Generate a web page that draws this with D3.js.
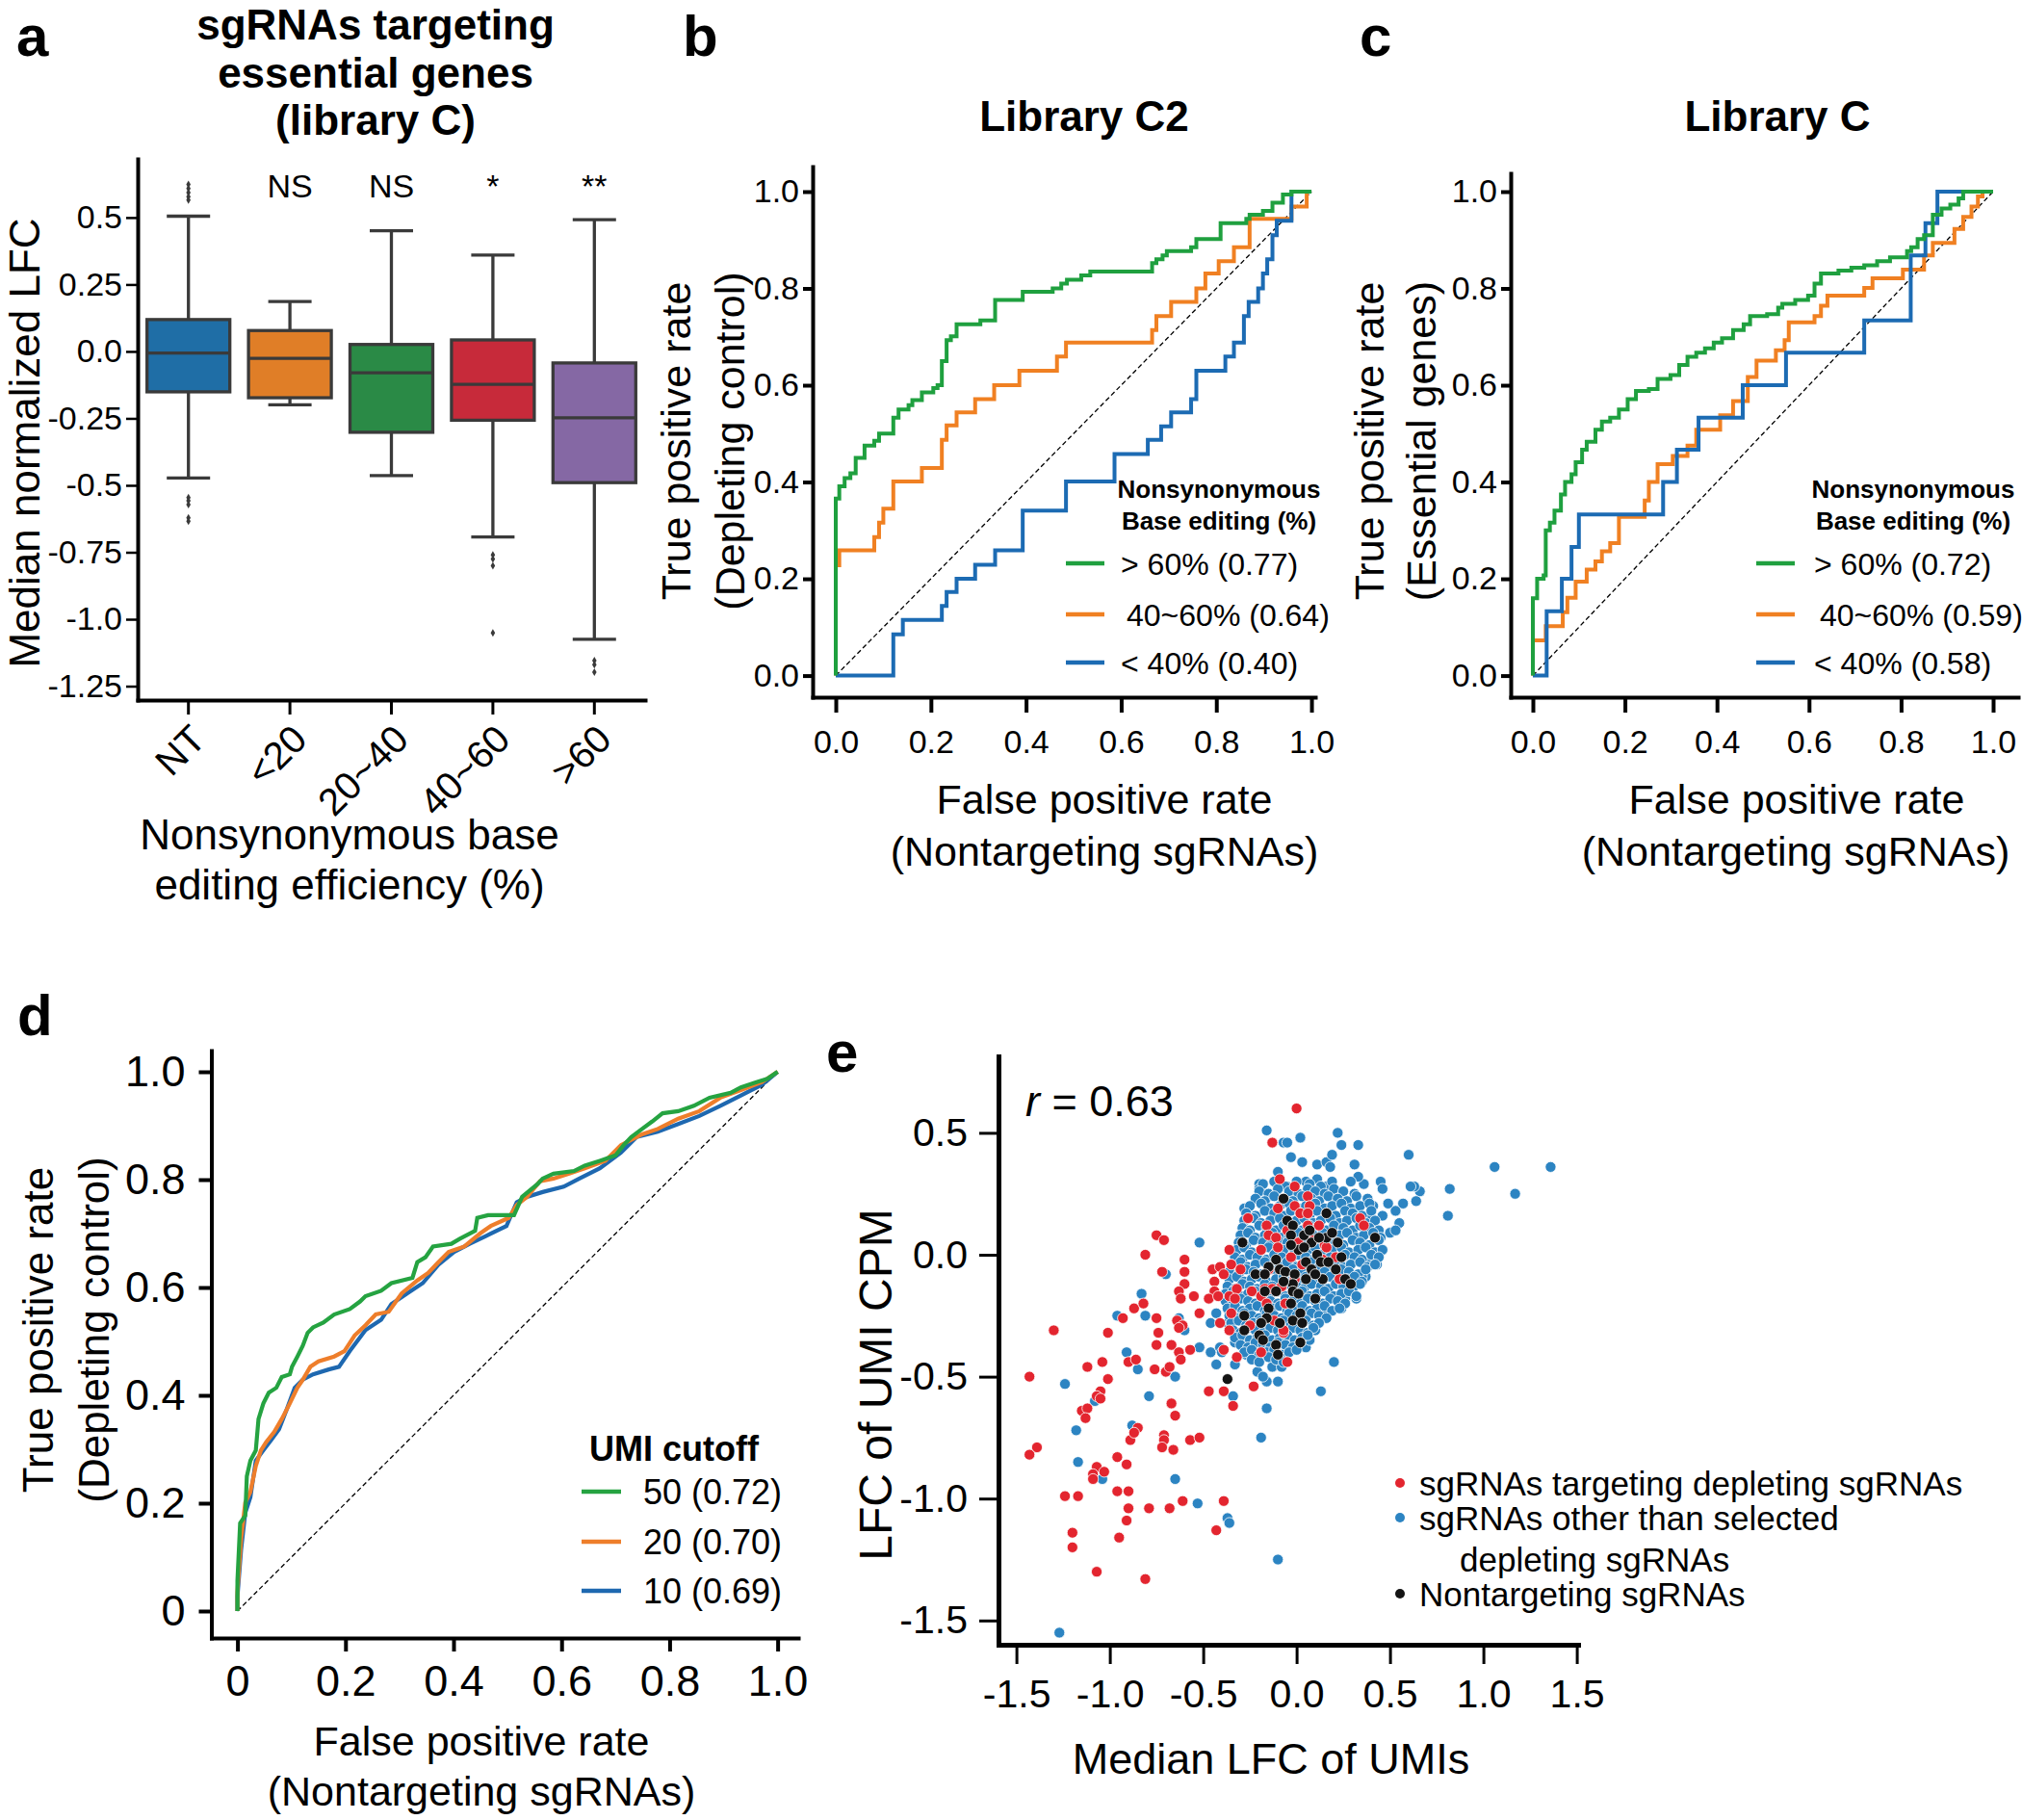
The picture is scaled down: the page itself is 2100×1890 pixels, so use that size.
<!DOCTYPE html>
<html><head><meta charset="utf-8">
<script src="https://cdn.jsdelivr.net/npm/d3@7"></script>
<style>body{margin:0;background:#fff} text{font-family:'Liberation Sans',Arial,Helvetica,sans-serif}</style>
</head><body><script>
// ---------------- DATA ----------------
// Panel a: boxplot (whisker low, Q1, median, Q3, whisker high)
const boxCats = ["NT","<20","20~40","40~60",">60"];
const boxLow  = [-0.473,-0.199,-0.464,-0.693,-1.075];
const boxQ1   = [-0.151,-0.173,-0.302,-0.257,-0.490];
const boxMed  = [-0.006,-0.026,-0.080,-0.123,-0.248];
const boxQ3   = [0.119,0.078,0.026,0.043,-0.043];
const boxHigh = [0.505,0.186,0.451,0.360,0.492];
const boxOutliers = [
  [0.624,0.608,0.593,0.578,0.565,-0.546,-0.558,-0.572,-0.621,-0.634],
  [],[],
  [-0.760,-0.775,-0.800,-1.051],
  [-1.155,-1.170,-1.198]];
const boxSig = ["","NS","NS","*","**"];
const boxColors = ["#1f6ea6","#e07e27","#2a8a46","#c72a3a","#8568a4"];
const aTicks = [0.5,0.25,0,-0.25,-0.5,-0.75,-1,-1.25];
const aTickLabels = ["0.5","0.25","0.0","-0.25","-0.5","-0.75","-1.0","-1.25"];

// Panel b: ROC, library C2 [fpr, tpr]
const rocBGreen = [[0,0],[0,0.366],[0.0074,0.391],[0.0186,0.408],[0.0307,0.418],[0.0419,0.45],[0.0605,0.475],[0.081,0.485],[0.091,0.5],[0.121,0.533],[0.132,0.55],[0.153,0.559],[0.161,0.569],[0.181,0.585],[0.205,0.594],[0.214,0.6],[0.223,0.65],[0.233,0.693],[0.242,0.701],[0.254,0.726],[0.304,0.734],[0.335,0.776],[0.393,0.793],[0.456,0.8],[0.474,0.81],[0.486,0.818],[0.516,0.827],[0.535,0.835],[0.665,0.852],[0.674,0.86],[0.687,0.868],[0.696,0.877],[0.747,0.885],[0.758,0.902],[0.809,0.935],[0.863,0.944],[0.87,0.952],[0.898,0.96],[0.918,0.977],[0.94,0.994],[0.958,1],[1,1]];
const rocBOrange = [[0,0],[0,0.228],[0.0074,0.259],[0.081,0.286],[0.091,0.316],[0.1,0.345],[0.121,0.401],[0.181,0.429],[0.223,0.487],[0.233,0.517],[0.254,0.544],[0.293,0.571],[0.333,0.6],[0.386,0.63],[0.465,0.659],[0.484,0.688],[0.665,0.714],[0.674,0.743],[0.705,0.772],[0.758,0.8],[0.777,0.831],[0.805,0.856],[0.837,0.885],[0.87,0.944],[0.958,0.969],[0.99,1],[1,1]];
const rocBBlue = [[0,0],[0.121,0],[0.121,0.085],[0.141,0.115],[0.223,0.144],[0.233,0.173],[0.254,0.2],[0.293,0.229],[0.335,0.259],[0.393,0.341],[0.484,0.401],[0.586,0.458],[0.656,0.487],[0.684,0.515],[0.705,0.544],[0.747,0.571],[0.758,0.63],[0.819,0.659],[0.837,0.688],[0.858,0.743],[0.868,0.772],[0.888,0.8],[0.898,0.831],[0.907,0.86],[0.918,0.91],[0.927,0.94],[0.958,1],[1,1]];
const legendB = ["> 60% (0.77)","40~60% (0.64)","< 40% (0.40)"];

// Panel c: ROC, library C
const rocCGreen = [[0,0],[0,0.16],[0.0093,0.2],[0.0234,0.207],[0.028,0.3],[0.037,0.316],[0.047,0.341],[0.061,0.374],[0.07,0.4],[0.084,0.416],[0.093,0.441],[0.107,0.467],[0.117,0.483],[0.136,0.508],[0.15,0.525],[0.168,0.533],[0.187,0.55],[0.206,0.571],[0.224,0.588],[0.252,0.592],[0.271,0.613],[0.299,0.621],[0.318,0.642],[0.336,0.659],[0.355,0.667],[0.374,0.676],[0.393,0.688],[0.411,0.697],[0.435,0.714],[0.458,0.726],[0.472,0.743],[0.509,0.747],[0.533,0.76],[0.542,0.768],[0.57,0.776],[0.598,0.785],[0.612,0.81],[0.626,0.831],[0.664,0.837],[0.692,0.843],[0.72,0.848],[0.748,0.856],[0.776,0.864],[0.813,0.877],[0.822,0.885],[0.836,0.902],[0.85,0.91],[0.869,0.952],[0.888,0.965],[0.907,0.973],[0.925,0.986],[0.935,1],[1,1]];
const rocCOrange = [[0,0],[0,0.073],[0.028,0.102],[0.065,0.131],[0.075,0.161],[0.093,0.194],[0.117,0.219],[0.136,0.236],[0.15,0.257],[0.168,0.274],[0.187,0.328],[0.243,0.362],[0.252,0.4],[0.271,0.437],[0.304,0.454],[0.336,0.475],[0.355,0.508],[0.407,0.538],[0.435,0.567],[0.467,0.617],[0.486,0.651],[0.528,0.672],[0.547,0.693],[0.556,0.73],[0.612,0.743],[0.626,0.764],[0.64,0.785],[0.72,0.801],[0.738,0.821],[0.804,0.839],[0.85,0.868],[0.869,0.894],[0.916,0.923],[0.935,0.948],[0.953,0.969],[0.967,0.99],[0.977,1],[1,1]];
const rocCBlue = [[0,0],[0.03,0],[0.03,0.133],[0.063,0.2],[0.084,0.266],[0.1,0.333],[0.283,0.4],[0.313,0.467],[0.36,0.533],[0.456,0.6],[0.55,0.667],[0.72,0.734],[0.821,0.868],[0.853,0.935],[0.879,1],[1,1]];
const legendC = ["> 60% (0.72)","40~60% (0.59)","< 40% (0.58)"];

// Panel d: ROC by UMI cutoff
const rocDGreen = [[0,0],[0,0.056],[0.005,0.163],[0.0145,0.177],[0.0174,0.25],[0.024,0.279],[0.034,0.298],[0.039,0.356],[0.048,0.385],[0.058,0.405],[0.072,0.414],[0.082,0.434],[0.097,0.439],[0.101,0.453],[0.111,0.472],[0.121,0.492],[0.13,0.516],[0.14,0.526],[0.159,0.535],[0.179,0.55],[0.208,0.56],[0.227,0.574],[0.237,0.584],[0.266,0.594],[0.285,0.608],[0.324,0.618],[0.333,0.647],[0.348,0.656],[0.362,0.676],[0.396,0.681],[0.411,0.69],[0.44,0.705],[0.444,0.729],[0.464,0.734],[0.512,0.734],[0.527,0.768],[0.556,0.792],[0.565,0.802],[0.585,0.811],[0.623,0.816],[0.643,0.826],[0.671,0.835],[0.7,0.845],[0.715,0.864],[0.729,0.879],[0.749,0.894],[0.768,0.908],[0.787,0.923],[0.816,0.927],[0.845,0.937],[0.874,0.952],[0.913,0.961],[0.932,0.971],[0.961,0.981],[0.981,0.987],[1,1]];
const rocDOrange = [[0,0],[0,0.037],[0.0068,0.134],[0.0145,0.201],[0.024,0.221],[0.034,0.269],[0.0435,0.298],[0.053,0.313],[0.068,0.332],[0.082,0.356],[0.097,0.385],[0.111,0.414],[0.121,0.429],[0.135,0.453],[0.15,0.463],[0.179,0.472],[0.198,0.482],[0.217,0.511],[0.237,0.53],[0.256,0.55],[0.28,0.555],[0.304,0.589],[0.333,0.613],[0.353,0.627],[0.372,0.647],[0.391,0.666],[0.42,0.676],[0.449,0.7],[0.469,0.714],[0.502,0.729],[0.517,0.753],[0.536,0.768],[0.56,0.797],[0.585,0.802],[0.614,0.811],[0.643,0.821],[0.681,0.835],[0.71,0.864],[0.749,0.884],[0.778,0.894],[0.816,0.913],[0.855,0.927],[0.894,0.952],[0.932,0.966],[0.971,0.981],[1,1]];
const rocDBlue = [[0,0],[0,0.027],[0.0068,0.114],[0.0145,0.182],[0.024,0.211],[0.034,0.279],[0.048,0.298],[0.063,0.318],[0.077,0.337],[0.092,0.376],[0.106,0.414],[0.121,0.429],[0.14,0.439],[0.169,0.448],[0.188,0.453],[0.208,0.482],[0.237,0.521],[0.266,0.54],[0.285,0.569],[0.314,0.589],[0.343,0.608],[0.372,0.642],[0.401,0.666],[0.43,0.681],[0.459,0.695],[0.498,0.714],[0.517,0.758],[0.536,0.768],[0.565,0.777],[0.604,0.787],[0.633,0.802],[0.671,0.821],[0.71,0.85],[0.739,0.879],[0.778,0.889],[0.816,0.903],[0.855,0.918],[0.894,0.937],[0.932,0.956],[0.971,0.976],[1,1]];
const legendD = ["50 (0.72)","20 (0.70)","10 (0.69)"];
const rocTicks = [0,0.2,0.4,0.6,0.8,1];

// Panel e: scatter [median LFC of UMIs, LFC of UMI CPM]
const scatterRed = [[0.00,0.60],[-0.13,0.46],[-0.09,0.31],[-0.01,0.28],[0.06,0.24],[-0.75,0.08],[-0.71,0.06],[-0.81,0.00],[-0.36,0.02],[-0.60,-0.02],[-0.45,-0.06],[-0.41,-0.05],[-0.35,-0.04],[-0.72,-0.07],[-0.60,-0.07],[-0.39,-0.08],[-0.44,-0.11],[-0.60,-0.12],[-0.63,-0.15],[-0.62,-0.18],[-0.55,-0.17],[-0.44,-0.15],[-0.47,-0.18],[-0.42,-0.17],[-0.36,-0.17],[-0.87,-0.22],[-0.82,-0.20],[-0.93,-0.26],[-0.75,-0.26],[-0.52,-0.24],[-0.35,-0.24],[-0.64,-0.27],[-0.61,-0.29],[-0.74,-0.32],[-1.30,-0.31],[-1.01,-0.32],[-0.63,-0.30],[-0.75,-0.37],[-0.67,-0.37],[-0.57,-0.39],[-0.63,-0.40],[-0.62,-0.43],[-0.39,-0.39],[-0.90,-0.44],[-0.86,-0.43],[-1.12,-0.46],[-1.04,-0.44],[-0.76,-0.47],[-0.70,-0.48],[-0.68,-0.46],[-1.01,-0.51],[-1.43,-0.50],[-1.05,-0.56],[-1.07,-0.58],[-1.05,-0.59],[-0.47,-0.56],[-0.39,-0.56],[-0.23,-0.54],[-0.32,-0.42],[-0.34,-0.62],[-0.67,-0.61],[-0.65,-0.66],[-1.15,-0.64],[-1.12,-0.63],[-1.13,-0.67],[-0.85,-0.71],[-0.89,-0.76],[-0.87,-0.73],[-0.71,-0.74],[-0.71,-0.76],[-0.72,-0.79],[-0.66,-0.80],[-0.57,-0.76],[-0.52,-0.75],[-1.39,-0.79],[-1.43,-0.82],[-0.96,-0.83],[-0.91,-0.86],[-1.07,-0.87],[-1.03,-0.89],[-1.09,-0.90],[-1.09,-0.92],[-1.24,-0.99],[-1.17,-0.99],[-0.96,-0.97],[-0.90,-0.97],[-0.90,-1.04],[-0.91,-1.09],[-0.79,-1.04],[-0.68,-1.04],[-0.61,-1.01],[-0.39,-1.01],[-0.43,-1.13],[-1.20,-1.14],[-1.20,-1.20],[-0.95,-1.16],[-1.07,-1.30],[-0.81,-1.33],[-0.07,-0.32],[-0.05,-0.44],[-0.19,-0.40],[-0.41,-0.28],[-0.36,-0.31],
  [-0.26,0.15],[-0.16,0.12],[-0.10,0.19],[-0.01,0.20],[0.02,0.17],[0.07,0.20],[0.06,0.12],[0.12,0.12],[0.34,0.15],[0.36,0.12],[-0.15,0.08],[-0.11,0.07],[-0.05,0.10],[0.01,0.05],[0.09,0.06],[0.15,0.04],[-0.19,0.02],[-0.10,0.03],[-0.03,-0.01],[0.03,-0.04],[0.14,-0.02],[0.21,-0.01],[-0.24,-0.15],[-0.17,-0.14],[-0.13,-0.14],[-0.08,-0.13],[-0.06,-0.20],[-0.19,-0.17],[-0.32,-0.14],[-0.33,-0.18],[-0.25,-0.29],[-0.16,-0.20],[-0.12,-0.27],[0.23,-0.10],[-0.07,-0.31],[-0.30,-0.06],[-0.15,-0.06],[-0.01,-0.10],[0.06,0.17],[0.16,0.03]];
const scatterBlack = [[-0.07,0.23],[-0.29,0.05],[0.16,0.17],[-0.05,0.14],[-0.02,0.12],[-0.03,0.08],[0.04,0.08],[0.08,0.05],[0.16,0.07],[0.19,0.09],[0.22,0.05],[0.42,0.07],[0.12,0.07],[0.01,0.02],[-0.03,0.04],[-0.11,-0.02],[-0.09,-0.06],[-0.15,-0.05],[-0.22,-0.08],[-0.17,-0.08],[-0.06,-0.07],[-0.01,-0.08],[0.05,-0.03],[0.08,-0.06],[0.11,0.00],[0.13,-0.03],[0.17,-0.03],[0.21,-0.06],[0.24,-0.01],[0.14,-0.10],[0.10,-0.08],[0.26,-0.10],[0.29,-0.12],[-0.02,-0.12],[-0.02,-0.15],[0.01,-0.16],[-0.11,-0.15],[-0.17,-0.15],[-0.15,-0.22],[-0.03,-0.20],[0.10,-0.18],[-0.28,-0.25],[-0.16,-0.26],[-0.19,-0.28],[-0.09,-0.28],[-0.02,-0.27],[0.02,-0.24],[0.03,-0.28],[-0.28,-0.31],[-0.20,-0.33],[-0.18,-0.35],[-0.11,-0.37],[-0.10,-0.41],[0.02,-0.36],[-0.37,-0.51],[-0.07,-0.11],[0.05,-0.10],[0.04,0.03],[0.07,0.10]];
const scatterBlueOuter = [[-0.16,0.51],[-0.07,0.46],[-0.05,0.46],[0.02,0.48],[0.22,0.50],[0.24,0.45],[0.33,0.45],[-0.03,0.40],[0.03,0.38],[0.11,0.37],[0.16,0.38],[0.18,0.36],[0.19,0.41],[0.31,0.37],[0.60,0.41],[1.06,0.36],[1.36,0.36],[1.17,0.25],[0.82,0.27],[0.81,0.16],[0.66,0.26],[0.63,0.28],[0.61,0.28],[0.64,0.22],[0.45,0.30],[0.46,0.27],[0.36,0.29],[0.33,0.32],[0.29,0.30],[0.57,0.21],[0.53,0.18],[0.49,0.21],[0.55,0.13],[0.46,0.16],[0.50,0.09],[0.53,0.10],[0.41,0.20],[0.40,0.15],[0.44,0.01],[0.43,-0.04],[0.40,-0.03],[0.37,-0.09],[0.35,-0.09],[0.32,-0.18],[0.26,-0.18],[0.24,-0.22],[0.20,-0.44],[0.13,-0.56],[-0.19,-0.75],[-0.10,-1.25],[-1.27,-1.55],[-0.20,0.29],[-0.20,0.27],[-0.10,0.34],[-0.05,0.28],[0.05,0.30],[0.11,0.31],[0.16,0.28],[-0.28,0.19],[-0.52,0.05],[-0.70,-0.08],[-0.83,-0.16],[-0.96,-0.25],[-0.81,-0.25],[-0.91,-0.40],[-0.85,-0.47],[-1.24,-0.53],[-0.65,-0.50],[-0.79,-0.58],[-1.08,-0.60],[-1.18,-0.72],[-0.88,-0.70],[-1.17,-0.85],[-1.04,-0.92],[-0.65,-0.92],[-0.53,-1.02],[-0.37,-1.08],[-0.36,-1.10],[-0.60,-0.31],[-0.63,-0.26],[-0.52,-0.38],[-0.46,-0.40],[-0.43,-0.45],[-0.41,-0.38],[-0.40,-0.40],[-0.33,-0.45],[-0.34,-0.58],[-0.16,-0.63],[-0.16,-0.52],[-0.10,-0.52],[-0.21,-0.48],[-0.18,-0.50],[-0.13,-0.46],[-0.08,-0.46],[-0.27,-0.41],[-0.24,-0.40],[-0.46,-0.28],[-0.43,-0.24],[-0.37,-0.28],[-0.33,-0.36],[-0.01,-0.36],[0.05,-0.38],[0.07,-0.35],[0.10,-0.31],[0.14,-0.24]];
const scatterBlueCore = [
[-0.18,0.29],[-0.12,0.30],[-0.06,0.28],[0.00,0.30],[0.07,0.29],[0.13,0.28],[0.19,0.30],
[-0.20,0.26],[-0.15,0.25],[-0.10,0.27],[-0.04,0.26],[0.01,0.25],[0.06,0.27],[0.10,0.26],[0.15,0.25],[0.20,0.27],[0.25,0.26],[0.31,0.25],
[-0.22,0.23],[-0.17,0.22],[-0.12,0.24],[-0.07,0.23],[-0.02,0.22],[0.03,0.24],[0.08,0.23],[0.12,0.22],[0.17,0.24],[0.22,0.23],[0.27,0.22],[0.32,0.24],[0.38,0.23],
[-0.25,0.20],[-0.19,0.21],[-0.14,0.19],[-0.09,0.20],[-0.04,0.21],[0.01,0.19],[0.05,0.20],[0.10,0.21],[0.15,0.19],[0.19,0.20],[0.24,0.21],[0.29,0.19],[0.34,0.20],[0.39,0.21],
[-0.27,0.17],[-0.22,0.16],[-0.17,0.18],[-0.12,0.17],[-0.07,0.16],[-0.03,0.18],[0.02,0.17],[0.07,0.16],[0.11,0.18],[0.16,0.17],[0.21,0.16],[0.26,0.18],[0.30,0.17],[0.35,0.16],[0.40,0.18],
[-0.28,0.14],[-0.23,0.15],[-0.19,0.13],[-0.14,0.14],[-0.09,0.15],[-0.05,0.13],[0.00,0.14],[0.04,0.15],[0.09,0.13],[0.13,0.14],[0.18,0.15],[0.23,0.13],[0.27,0.14],[0.32,0.15],[0.37,0.13],[0.42,0.14],
[-0.29,0.11],[-0.25,0.10],[-0.20,0.12],[-0.16,0.11],[-0.11,0.10],[-0.07,0.12],[-0.02,0.11],[0.03,0.10],[0.07,0.12],[0.11,0.11],[0.16,0.10],[0.20,0.12],[0.25,0.11],[0.30,0.10],[0.34,0.12],[0.39,0.11],[0.44,0.10],
[-0.30,0.08],[-0.26,0.09],[-0.22,0.07],[-0.17,0.08],[-0.13,0.09],[-0.08,0.07],[-0.04,0.08],[0.01,0.09],[0.05,0.07],[0.09,0.08],[0.14,0.09],[0.18,0.07],[0.23,0.08],[0.27,0.09],[0.32,0.07],[0.36,0.08],[0.41,0.09],[0.45,0.07],
[-0.31,0.05],[-0.27,0.04],[-0.23,0.06],[-0.18,0.05],[-0.14,0.04],[-0.10,0.06],[-0.05,0.05],[-0.01,0.04],[0.03,0.06],[0.08,0.05],[0.12,0.04],[0.16,0.06],[0.21,0.05],[0.25,0.04],[0.30,0.06],[0.34,0.05],[0.39,0.04],[0.44,0.06],
[-0.32,0.02],[-0.28,0.03],[-0.24,0.01],[-0.19,0.02],[-0.15,0.03],[-0.11,0.01],[-0.07,0.02],[-0.02,0.03],[0.02,0.01],[0.06,0.02],[0.10,0.03],[0.15,0.01],[0.19,0.02],[0.24,0.03],[0.28,0.01],[0.33,0.02],[0.37,0.03],[0.42,0.01],[0.46,0.02],
[-0.33,-0.01],[-0.29,-0.02],[-0.25,0.00],[-0.21,-0.01],[-0.16,-0.02],[-0.12,0.00],[-0.08,-0.01],[-0.03,-0.02],[0.01,0.00],[0.05,-0.01],[0.09,-0.02],[0.13,0.00],[0.18,-0.01],[0.22,-0.02],[0.26,0.00],[0.31,-0.01],[0.35,-0.02],[0.40,0.00],[0.44,-0.01],
[-0.35,-0.04],[-0.30,-0.03],[-0.26,-0.05],[-0.22,-0.04],[-0.17,-0.03],[-0.13,-0.05],[-0.09,-0.04],[-0.05,-0.03],[0.00,-0.05],[0.04,-0.04],[0.08,-0.03],[0.12,-0.05],[0.17,-0.04],[0.21,-0.03],[0.25,-0.05],[0.29,-0.04],[0.34,-0.03],[0.38,-0.05],[0.42,-0.04],
[-0.36,-0.07],[-0.31,-0.08],[-0.27,-0.06],[-0.23,-0.07],[-0.19,-0.08],[-0.14,-0.06],[-0.10,-0.07],[-0.06,-0.08],[-0.02,-0.06],[0.03,-0.07],[0.07,-0.08],[0.11,-0.06],[0.15,-0.07],[0.20,-0.08],[0.24,-0.06],[0.28,-0.07],[0.33,-0.08],[0.37,-0.06],
[-0.36,-0.10],[-0.32,-0.09],[-0.28,-0.11],[-0.24,-0.10],[-0.20,-0.09],[-0.16,-0.11],[-0.11,-0.10],[-0.07,-0.09],[-0.03,-0.11],[0.01,-0.10],[0.05,-0.09],[0.10,-0.11],[0.14,-0.10],[0.18,-0.09],[0.22,-0.11],[0.27,-0.10],[0.31,-0.09],[0.35,-0.11],
[-0.37,-0.13],[-0.33,-0.14],[-0.29,-0.12],[-0.25,-0.13],[-0.21,-0.14],[-0.17,-0.12],[-0.13,-0.13],[-0.08,-0.14],[-0.04,-0.12],[0.00,-0.13],[0.04,-0.14],[0.08,-0.12],[0.13,-0.13],[0.17,-0.14],[0.21,-0.12],[0.25,-0.13],[0.30,-0.14],[0.34,-0.12],
[-0.38,-0.16],[-0.34,-0.15],[-0.30,-0.17],[-0.26,-0.16],[-0.22,-0.15],[-0.18,-0.17],[-0.14,-0.16],[-0.10,-0.15],[-0.06,-0.17],[-0.01,-0.16],[0.03,-0.15],[0.07,-0.17],[0.11,-0.16],[0.15,-0.15],[0.20,-0.17],[0.24,-0.16],[0.28,-0.15],[0.32,-0.17],
[-0.38,-0.19],[-0.34,-0.20],[-0.30,-0.18],[-0.26,-0.19],[-0.22,-0.20],[-0.18,-0.18],[-0.14,-0.19],[-0.10,-0.20],[-0.06,-0.18],[-0.02,-0.19],[0.02,-0.20],[0.06,-0.18],[0.10,-0.19],[0.14,-0.20],[0.18,-0.18],[0.22,-0.19],[0.26,-0.20],
[-0.37,-0.22],[-0.33,-0.21],[-0.29,-0.23],[-0.25,-0.22],[-0.21,-0.21],[-0.17,-0.23],[-0.13,-0.22],[-0.09,-0.21],[-0.05,-0.23],[-0.01,-0.22],[0.03,-0.21],[0.07,-0.23],[0.11,-0.22],[0.15,-0.21],[0.19,-0.23],[0.23,-0.22],
[-0.36,-0.25],[-0.32,-0.26],[-0.28,-0.24],[-0.24,-0.25],[-0.20,-0.26],[-0.16,-0.24],[-0.12,-0.25],[-0.08,-0.26],[-0.04,-0.24],[0.00,-0.25],[0.04,-0.26],[0.08,-0.24],[0.12,-0.25],[0.16,-0.26],
[-0.35,-0.28],[-0.31,-0.27],[-0.27,-0.29],[-0.23,-0.28],[-0.19,-0.27],[-0.15,-0.29],[-0.11,-0.28],[-0.07,-0.27],[-0.03,-0.29],[0.01,-0.28],[0.05,-0.27],[0.09,-0.29],[0.12,-0.28],
[-0.34,-0.31],[-0.30,-0.32],[-0.26,-0.30],[-0.22,-0.31],[-0.18,-0.32],[-0.14,-0.30],[-0.10,-0.31],[-0.06,-0.32],[-0.02,-0.30],[0.02,-0.31],[0.06,-0.32],[0.09,-0.30],
[-0.33,-0.34],[-0.29,-0.33],[-0.25,-0.35],[-0.21,-0.34],[-0.17,-0.33],[-0.13,-0.35],[-0.09,-0.34],[-0.05,-0.33],[-0.01,-0.35],[0.03,-0.34],[0.06,-0.33],
[-0.30,-0.37],[-0.26,-0.38],[-0.22,-0.36],[-0.18,-0.37],[-0.14,-0.38],[-0.10,-0.36],[-0.06,-0.37],[-0.02,-0.38],[0.02,-0.36],
[-0.28,-0.40],[-0.24,-0.39],[-0.20,-0.41],[-0.16,-0.40],[-0.12,-0.39],[-0.08,-0.41],[-0.04,-0.40],[0.00,-0.39],
[-0.24,-0.43],[-0.20,-0.44],[-0.15,-0.42],[-0.11,-0.43],[-0.07,-0.44]];
const legendE = ["sgRNAs targeting depleting sgRNAs","sgRNAs other than selected","depleting sgRNAs","Nontargeting sgRNAs"];
const eXTicks = [-1.5,-1,-0.5,0,0.5,1,1.5];
const eYTicks = [0.5,0,-0.5,-1,-1.5];

// ---------------- DRAWING ----------------
const W = 2100, H = 1890;
const svg = d3.select("body").append("svg").attr("width", W).attr("height", H);
svg.append("rect").attr("width", W).attr("height", H).attr("fill", "#fff");

function T(x, y, s, o = {}) {
  const t = svg.append("text").attr("x", x).attr("y", y).text(s)
    .attr("font-size", o.fs || 40).attr("text-anchor", o.anchor || "start")
    .attr("font-weight", o.bold ? "bold" : "normal").attr("fill", o.fill || "#000");
  if (o.rot) t.attr("transform", `rotate(${o.rot},${x},${y})`);
  return t;
}
function styleAxis(g, sw, tw, fs) {
  g.select(".domain").attr("stroke", "#000").attr("stroke-width", sw).attr("stroke-linecap", "square");
  g.selectAll(".tick line").attr("stroke", "#000").attr("stroke-width", tw);
  g.selectAll(".tick text").attr("font-size", fs).attr("fill", "#000");
}
const fmt1 = d => d === 0 ? "0.0" : d.toFixed(1);

// Panel letters
T(17, 58, "a", {fs: 60, bold: true});
T(709, 58, "b", {fs: 60, bold: true});
T(1412, 58, "c", {fs: 60, bold: true});
T(18, 1075, "d", {fs: 60, bold: true});
T(858, 1113, "e", {fs: 60, bold: true});

// ---- Panel a ----
{
  const x = d3.scaleBand().domain(boxCats).range([143, 670]);
  const y = d3.scaleLinear().domain([-1.302, 0.719]).range([727, 165]);
  const gy = svg.append("g").attr("transform", "translate(143,0)")
    .call(d3.axisLeft(y).tickValues(aTicks).tickFormat((d, i) => aTickLabels[i]).tickSize(12).tickPadding(4).tickSizeOuter(0));
  styleAxis(gy, 4, 2.5, 34);
  const gx = svg.append("g").attr("transform", "translate(0,727)")
    .call(d3.axisBottom(x).tickSize(15).tickSizeOuter(0).tickFormat(() => ""));
  styleAxis(gx, 4, 3, 34);
  boxCats.forEach((c, i) => {
    const cx = x(c) + x.bandwidth() / 2;
    T(cx + 20, 770, c, {fs: 40, anchor: "end", rot: -45});
  });
  const bw = 86, cw = 45, stroke = "#3a3a3a";
  const g = svg.append("g");
  boxCats.forEach((c, i) => {
    const cx = x(c) + x.bandwidth() / 2;
    g.append("line").attr("x1", cx).attr("x2", cx).attr("y1", y(boxHigh[i])).attr("y2", y(boxQ3[i])).attr("stroke", stroke).attr("stroke-width", 3.3);
    g.append("line").attr("x1", cx).attr("x2", cx).attr("y1", y(boxQ1[i])).attr("y2", y(boxLow[i])).attr("stroke", stroke).attr("stroke-width", 3.3);
    g.append("line").attr("x1", cx - cw / 2).attr("x2", cx + cw / 2).attr("y1", y(boxHigh[i])).attr("y2", y(boxHigh[i])).attr("stroke", stroke).attr("stroke-width", 3.3);
    g.append("line").attr("x1", cx - cw / 2).attr("x2", cx + cw / 2).attr("y1", y(boxLow[i])).attr("y2", y(boxLow[i])).attr("stroke", stroke).attr("stroke-width", 3.3);
    g.append("rect").attr("x", cx - bw / 2).attr("width", bw).attr("y", y(boxQ3[i])).attr("height", y(boxQ1[i]) - y(boxQ3[i]))
      .attr("fill", boxColors[i]).attr("stroke", stroke).attr("stroke-width", 3.3);
    g.append("line").attr("x1", cx - bw / 2).attr("x2", cx + bw / 2).attr("y1", y(boxMed[i])).attr("y2", y(boxMed[i])).attr("stroke", stroke).attr("stroke-width", 3.3);
    boxOutliers[i].forEach(v => {
      g.append("path").attr("d", "M0,-4L2.3,0L0,4L-2.3,0Z").attr("transform", `translate(${cx},${y(v)})`).attr("fill", stroke);
    });
    if (boxSig[i]) T(cx, 205, boxSig[i], {fs: 34, anchor: "middle"});
  });
  T(390, 41, "sgRNAs targeting", {fs: 44, bold: true, anchor: "middle"});
  T(390, 91, "essential genes", {fs: 44, bold: true, anchor: "middle"});
  T(390, 140, "(library C)", {fs: 44, bold: true, anchor: "middle"});
  T(41, 460, "Median normalized LFC", {fs: 44, anchor: "middle", rot: -90});
  T(363, 882, "Nonsynonymous base", {fs: 44, anchor: "middle"});
  T(363, 934, "editing efficiency (%)", {fs: 44, anchor: "middle"});
}

// ---- ROC helper ----
function rocPanel(o) {
  const x = d3.scaleLinear().domain(o.xd).range(o.xr);
  const y = d3.scaleLinear().domain(o.yd).range(o.yr);
  const gy = svg.append("g").attr("transform", `translate(${o.xr[0]},0)`)
    .call(d3.axisLeft(y).tickValues(rocTicks).tickFormat(o.yfmt).tickSize(o.yts).tickPadding(o.ytp).tickSizeOuter(0));
  styleAxis(gy, 4, 4, o.fs);
  const gx = svg.append("g").attr("transform", `translate(0,${o.yr[0]})`)
    .call(d3.axisBottom(x).tickValues(rocTicks).tickFormat(o.xfmt).tickSize(o.xts).tickPadding(o.xtp).tickSizeOuter(0));
  styleAxis(gx, 4, 4, o.fs);
  svg.append("line").attr("x1", x(0)).attr("y1", y(0)).attr("x2", x(1)).attr("y2", y(1))
    .attr("stroke", "#000").attr("stroke-width", 1.3).attr("stroke-dasharray", "5,3");
  const line = d3.line().x(d => x(d[0])).y(d => y(d[1])).curve(o.curve);
  o.order.forEach(k => {
    svg.append("path").datum(o.series[k]).attr("d", line).attr("fill", "none")
      .attr("stroke", o.colors[k]).attr("stroke-width", o.lw).attr("stroke-linejoin", "miter");
  });
  return {x, y};
}

const rocColors = ["#1fa03f", "#f08022", "#1c6bb3"];

// ---- Panel b ----
rocPanel({xd: [-0.0486, 1.008], xr: [844, 1366], yd: [-0.0446, 1.0517], yr: [724, 173],
  yfmt: fmt1, xfmt: fmt1, yts: 10, ytp: 4, xts: 16, xtp: 18, fs: 34,
  series: [rocBGreen, rocBOrange, rocBBlue], colors: rocColors, order: [1, 2, 0], lw: 4, curve: d3.curveStepAfter});
T(1126, 136, "Library C2", {fs: 44, bold: true, anchor: "middle"});
T(717, 458, "True positive rate", {fs: 43, anchor: "middle", rot: -90});
T(773, 458, "(Depleting control)", {fs: 43, anchor: "middle", rot: -90});
T(1147, 845, "False positive rate", {fs: 43, anchor: "middle"});
T(1147, 899, "(Nontargeting sgRNAs)", {fs: 43, anchor: "middle"});
T(1266, 517, "Nonsynonymous", {fs: 26, bold: true, anchor: "middle"});
T(1266, 550, "Base editing (%)", {fs: 26, bold: true, anchor: "middle"});
[585, 638, 688].forEach((ly, i) => {
  svg.append("line").attr("x1", 1107).attr("x2", 1147).attr("y1", ly).attr("y2", ly).attr("stroke", rocColors[i]).attr("stroke-width", 4.5);
  T(i === 1 ? 1170 : 1164, ly + 12, legendB[i], {fs: 32});
});

// ---- Panel c ----
rocPanel({xd: [-0.0481, 1.0544], xr: [1569, 2096], yd: [-0.0446, 1.0378], yr: [724, 180],
  yfmt: fmt1, xfmt: fmt1, yts: 10, ytp: 4, xts: 16, xtp: 18, fs: 34,
  series: [rocCGreen, rocCOrange, rocCBlue], colors: rocColors, order: [1, 2, 0], lw: 4, curve: d3.curveStepAfter});
T(1846, 136, "Library C", {fs: 44, bold: true, anchor: "middle"});
T(1437, 458, "True positive rate", {fs: 43, anchor: "middle", rot: -90});
T(1491, 458, "(Essential genes)", {fs: 43, anchor: "middle", rot: -90});
T(1866, 845, "False positive rate", {fs: 43, anchor: "middle"});
T(1865, 899, "(Nontargeting sgRNAs)", {fs: 43, anchor: "middle"});
T(1987, 517, "Nonsynonymous", {fs: 26, bold: true, anchor: "middle"});
T(1987, 550, "Base editing (%)", {fs: 26, bold: true, anchor: "middle"});
[585, 638, 688].forEach((ly, i) => {
  svg.append("line").attr("x1", 1824).attr("x2", 1864).attr("y1", ly).attr("y2", ly).attr("stroke", rocColors[i]).attr("stroke-width", 4.5);
  T(i === 1 ? 1890 : 1884, ly + 12, legendC[i], {fs: 32});
});

// ---- Panel d ----
const rocColorsD = ["#25a341", "#ee7e2b", "#1e68b0"];
rocPanel({xd: [-0.0483, 1.0381], xr: [219.5, 829], yd: [-0.05, 1.0393], yr: [1701, 1091],
  yfmt: d => d === 0 ? "0" : d.toFixed(1), xfmt: d => d === 0 ? "0" : d.toFixed(1),
  yts: 13, ytp: 14, xts: 14, xtp: 14, fs: 45,
  series: [rocDGreen, rocDOrange, rocDBlue], colors: rocColorsD, order: [2, 1, 0], lw: 4.2, curve: d3.curveLinear});
T(55, 1381, "True positive rate", {fs: 44, anchor: "middle", rot: -90});
T(113, 1381, "(Depleting control)", {fs: 44, anchor: "middle", rot: -90});
T(500, 1823, "False positive rate", {fs: 43, anchor: "middle"});
T(500, 1875, "(Nontargeting sgRNAs)", {fs: 43, anchor: "middle"});
T(612, 1517, "UMI cutoff", {fs: 36, bold: true});
[1549, 1601, 1652].forEach((ly, i) => {
  svg.append("line").attr("x1", 604).attr("x2", 645).attr("y1", ly).attr("y2", ly).attr("stroke", rocColorsD[i]).attr("stroke-width", 4.5);
  T(668, ly + 13, legendD[i], {fs: 36});
});

// ---- Panel e ----
{
  const x = d3.scaleLinear().domain([-1.596, 1.5072]).range([1037, 1639]);
  const y = d3.scaleLinear().domain([-1.5995, 0.8136]).range([1708, 1097]);
  const gy = svg.append("g").attr("transform", "translate(1037,0)")
    .call(d3.axisLeft(y).tickValues(eYTicks).tickFormat(d => d.toFixed(1)).tickSize(20).tickPadding(12).tickSizeOuter(0));
  styleAxis(gy, 5, 3, 41);
  const gx = svg.append("g").attr("transform", "translate(0,1708)")
    .call(d3.axisBottom(x).tickValues(eXTicks).tickFormat(d => d.toFixed(1)).tickSize(20).tickPadding(16).tickSizeOuter(0));
  styleAxis(gx, 5, 3, 41);
  const colR = "#e3252f", colB = "#2c84c2", colK = "#141414";
  const g = svg.append("g");
  const dots = (data, col) => g.selectAll(null).data(data).enter().append("circle")
    .attr("cx", d => x(d[0])).attr("cy", d => y(d[1])).attr("r", 5.6)
    .attr("fill", col).attr("stroke", "#fff").attr("stroke-width", 1).attr("stroke-opacity", 0.8);
  dots(scatterBlueOuter, colB);
  dots(scatterBlueCore, colB);
  dots(scatterRed, colR);
  dots(scatterBlack, colK);
  const rt = T(1065, 1159, "", {fs: 45});
  rt.append("tspan").attr("font-style", "italic").text("r");
  rt.append("tspan").text(" = 0.63");
  T(926, 1438, "LFC of UMI CPM", {fs: 48, anchor: "middle", rot: -90});
  T(1320, 1842, "Median LFC of UMIs", {fs: 45, anchor: "middle"});
  const lc = [colR, colB, null, colK];
  const ly = [1541, 1577, 1620, 1656];
  legendE.forEach((s, i) => {
    if (lc[i]) svg.append("circle").attr("cx", 1454).attr("cy", ly[i] - 1).attr("r", 5).attr("fill", lc[i]);
    T(i === 2 ? 1516 : 1474, ly[i] + 12, s, {fs: 35});
  });
}
</script></body></html>
